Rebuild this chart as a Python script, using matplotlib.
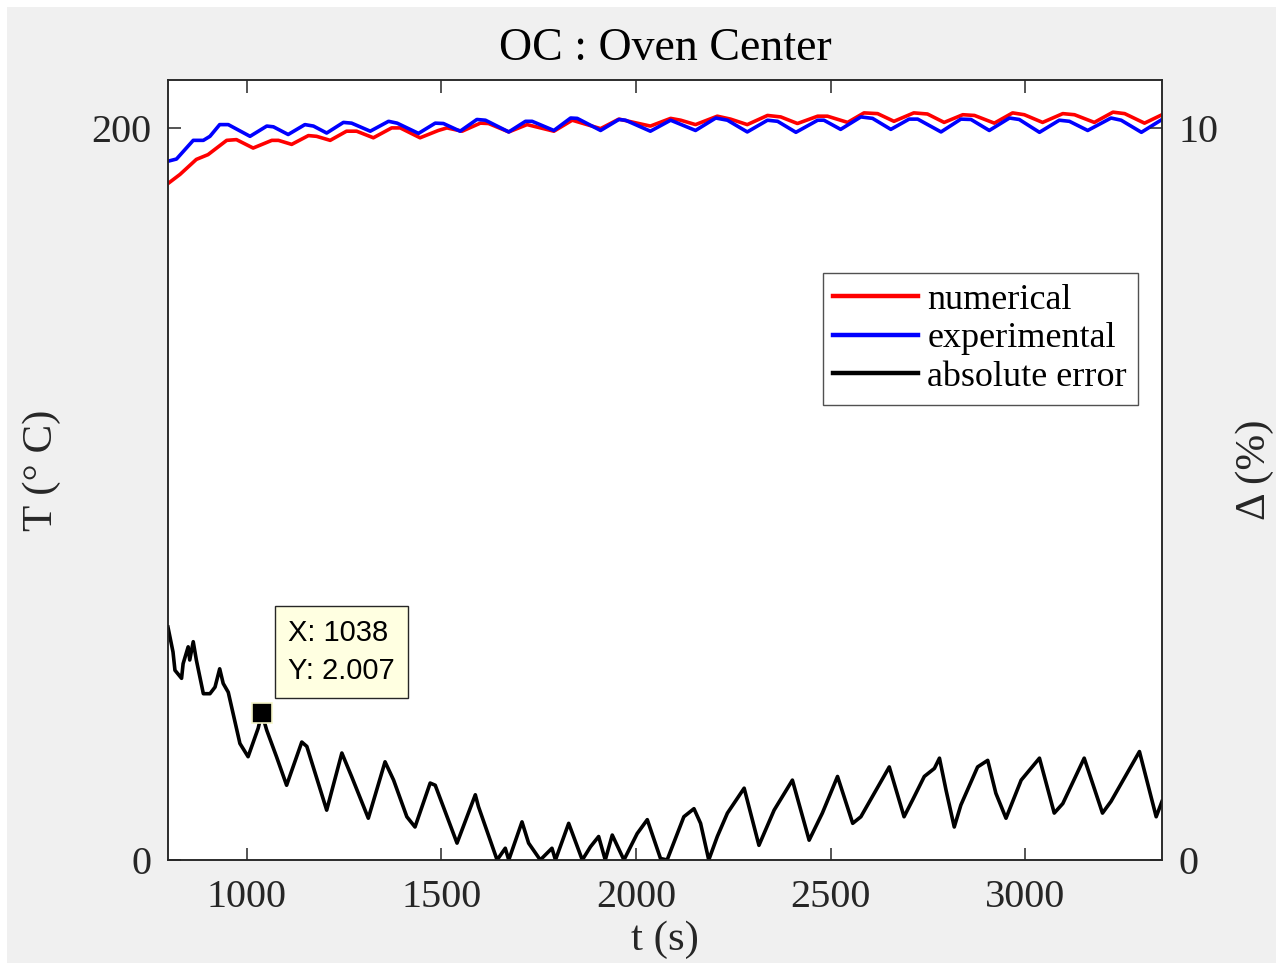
import matplotlib.pyplot as plt
from matplotlib.patches import Rectangle

# numerical oven-centre temperature (degC)
t_num = [797, 828, 870, 900, 948, 973, 1016, 1064, 1081, 1115, 1158, 1179, 1214,
         1256, 1282, 1325, 1372, 1394, 1445, 1492, 1514, 1553, 1600, 1621, 1673,
         1720, 1789, 1836, 1909, 1956, 2037, 2089, 2115, 2153, 2209, 2243, 2286,
         2338, 2372, 2415, 2467, 2492, 2544, 2586, 2621, 2663, 2714, 2749, 2792,
         2840, 2870, 2921, 2968, 2998, 3045, 3097, 3127, 3178, 3226, 3256, 3307, 3352]
T_num = [184.7, 187.2, 191.3, 192.6, 196.5, 196.7, 194.4, 196.5, 196.5, 195.4,
         197.8, 197.6, 196.5, 199.0, 199.0, 197.2, 199.9, 199.9, 197.2, 199.2,
         199.9, 199.0, 201.2, 201.1, 198.8, 200.8, 199.0, 202.0, 199.7, 202.3,
         200.4, 202.5, 202.0, 200.8, 203.1, 202.3, 200.8, 203.3, 202.9, 201.1,
         203.1, 203.1, 201.4, 204.0, 203.8, 201.7, 204.0, 203.7, 201.4, 203.5,
         203.3, 201.2, 204.0, 203.5, 201.4, 203.8, 203.5, 201.4, 204.2, 203.8,
         201.2, 203.5]

# measured oven-centre temperature (degC)
t_exp = [797, 819, 862, 888, 905, 930, 952, 1008, 1051, 1068, 1106, 1149, 1171,
         1205, 1248, 1269, 1317, 1364, 1386, 1441, 1484, 1505, 1548, 1591, 1613,
         1673, 1716, 1733, 1789, 1832, 1849, 1909, 1956, 1973, 2037, 2089, 2153,
         2205, 2235, 2286, 2338, 2364, 2411, 2467, 2483, 2526, 2578, 2608, 2655,
         2702, 2724, 2784, 2835, 2861, 2908, 2960, 2985, 3037, 3088, 3114, 3161,
         3221, 3247, 3299, 3352]
T_exp = [190.8, 191.4, 196.5, 196.5, 197.6, 200.8, 200.8, 197.6, 200.4, 200.2,
         198.1, 200.8, 200.4, 198.5, 201.4, 201.2, 199.0, 201.7, 201.2, 198.4,
         201.2, 201.1, 199.0, 202.2, 202.0, 198.8, 201.7, 201.7, 199.2, 202.6,
         202.5, 199.2, 202.2, 202.0, 199.0, 202.0, 199.2, 202.6, 202.0, 198.8,
         202.0, 201.7, 198.7, 202.0, 202.0, 199.5, 202.9, 202.5, 199.5, 202.3,
         202.3, 198.8, 202.3, 202.2, 199.2, 202.6, 202.2, 198.7, 202.0, 201.7,
         199.2, 202.6, 202.0, 198.7, 202.2]

# absolute error (%)
t_err = [797, 810, 815, 832, 836, 849, 853, 862, 870, 888, 905, 918, 930, 939,
         952, 982, 1003, 1029, 1038, 1051, 1076, 1102, 1141, 1154, 1205, 1244,
         1269, 1312, 1355, 1377, 1411, 1432, 1471, 1484, 1540, 1587, 1595, 1643,
         1664, 1673, 1707, 1724, 1754, 1784, 1793, 1827, 1862, 1883, 1904, 1921,
         1939, 1969, 2003, 2029, 2063, 2080, 2123, 2149, 2166, 2187, 2209, 2235,
         2278, 2316, 2355, 2402, 2445, 2479, 2518, 2557, 2578, 2651, 2689, 2711,
         2741, 2767, 2780, 2797, 2818, 2835, 2878, 2904, 2925, 2951, 2990, 3037,
         3075, 3097, 3152, 3199, 3221, 3294, 3337, 3352]
err = [3.18, 2.84, 2.59, 2.48, 2.68, 2.91, 2.73, 2.98, 2.73, 2.27, 2.27, 2.36,
       2.61, 2.41, 2.29, 1.59, 1.41, 1.80, 2.007, 1.77, 1.41, 1.02, 1.61, 1.55,
       0.68, 1.46, 1.14, 0.57, 1.34, 1.09, 0.59, 0.45, 1.05, 1.02, 0.23, 0.89,
       0.73, 0.00, 0.16, 0.00, 0.52, 0.23, 0.00, 0.16, 0.00, 0.50, 0.00, 0.18,
       0.32, 0.00, 0.34, 0.00, 0.36, 0.55, 0.02, 0.00, 0.59, 0.70, 0.50, 0.00,
       0.32, 0.64, 0.98, 0.20, 0.68, 1.09, 0.27, 0.64, 1.14, 0.50, 0.59, 1.27,
       0.59, 0.82, 1.14, 1.25, 1.39, 0.95, 0.45, 0.75, 1.27, 1.36, 0.91, 0.57,
       1.09, 1.39, 0.64, 0.77, 1.39, 0.64, 0.80, 1.48, 0.59, 0.80]

tip_x, tip_y = 1038, 2.007

serif = ['Liberation Serif', 'DejaVu Serif']
dark = '#262626'

fig = plt.figure(figsize=(12.83, 9.63), dpi=100, facecolor='white')
fig.patches.append(Rectangle((0.0055, 0.0), 0.989, 0.993, transform=fig.transFigure,
                             facecolor='#f0f0f0', edgecolor='none', zorder=-10))

ax = fig.add_axes([0.1309, 0.107, 0.7748, 0.810])
ax2 = ax.twinx()

l1, = ax.plot(t_num, T_num, color='#ff0000', lw=2.6, label='numerical')
l2, = ax.plot(t_exp, T_exp, color='#0000ff', lw=2.6, label='experimental')
l3, = ax2.plot(t_err, err, color='black', lw=2.6, label='absolute error')

ax.set_xlim(797, 3352)
ax.set_ylim(0, 213)
ax2.set_ylim(0, 10.65)
ax.set_xticks([1000, 1500, 2000, 2500, 3000])
ax.set_yticks([0, 200])
ax2.set_yticks([0, 10])

for a in (ax, ax2):
    for s in a.spines.values():
        s.set_color(dark)
        s.set_linewidth(1.1)
    a.tick_params(direction='in', length=9, width=1.1, colors=dark,
                  labelsize=29, pad=9)
    for lab in a.get_xticklabels() + a.get_yticklabels():
        lab.set_family(serif)
ax.tick_params(axis='x', top=True, pad=14)
ax.tick_params(axis='y', pad=12)
ax2.tick_params(axis='y', pad=12)

ax.set_xlabel('t (s)', fontsize=31, family=serif, color=dark, labelpad=3)
ax.set_ylabel('T (° C)', fontsize=31, family=serif, color=dark, labelpad=22)
ax2.set_ylabel('Δ (%)', fontsize=31, family=serif, color=dark, rotation=90,
               labelpad=12)
ax.set_title('OC : Oven Center', fontsize=33, family=serif, color='black', pad=14)

leg = ax.legend(handles=[l1, l2, l3], loc='upper left',
                bbox_to_anchor=(0.6585, 0.753), frameon=True, fancybox=False,
                handlelength=2.35, handletextpad=0.25, borderpad=0.3,
                labelspacing=0.15, borderaxespad=0,
                prop={'family': serif, 'size': 26})
leg.get_frame().set_edgecolor(dark)
leg.get_frame().set_linewidth(1.0)
for h in leg.get_lines():
    h.set_linewidth(3.2)

# data cursor on the error curve
ax2.plot([tip_x], [tip_y], marker='s', ms=15, mfc='black', mec='#f5f5c8',
         mew=1.2, zorder=5)
ax2.annotate(f'X: {tip_x}\nY: {tip_y:.3f}', xy=(tip_x, tip_y),
             xytext=(19, 20), textcoords='offset points', fontsize=21,
             family=['Liberation Sans', 'DejaVu Sans'], linespacing=1.45,
             ha='left', va='bottom',
             bbox=dict(boxstyle='square,pad=0.45', fc='#ffffe1', ec=dark, lw=1.0))

fig.savefig('out.png', dpi=100, facecolor=fig.get_facecolor())
